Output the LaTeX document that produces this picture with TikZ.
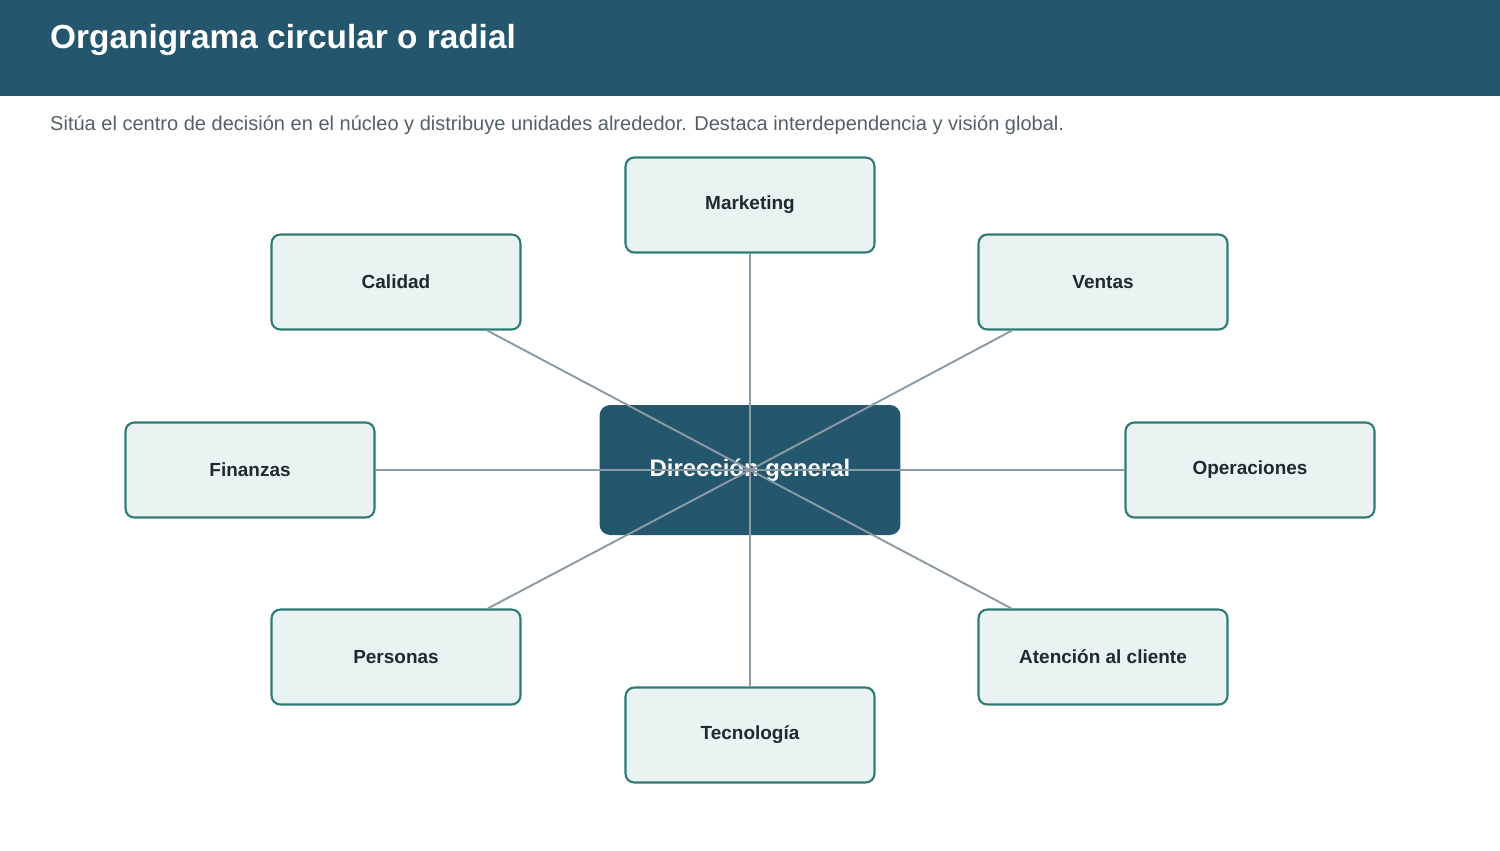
\documentclass[tikz,border=0pt]{standalone}
\usepackage{fontspec}
\setmainfont{Liberation Sans}
\definecolor{hdr}{HTML}{24566E}
\definecolor{boxfill}{HTML}{EAF3F1}
\definecolor{boxline}{HTML}{2E7B76}
\definecolor{conn}{HTML}{8A9BA5}
\definecolor{txt}{HTML}{1F2A30}
\definecolor{sub}{HTML}{555F66}
\begin{document}
\begin{tikzpicture}[x=0.02cm,y=-0.02cm,
  unit/.style={draw=boxline,fill=boxfill,line width=1.2pt,rounded corners=5pt,
    minimum width=4.98cm,minimum height=1.9cm,font=\fontsize{10.8}{13}\selectfont\bfseries,text=txt},
  core/.style={fill=hdr,rounded corners=6pt,minimum width=6.02cm,minimum height=2.6cm,
    font=\fontsize{13.6}{16}\selectfont\bfseries,text=white},
  link/.style={draw=conn,line width=1.1pt}]
\useasboundingbox (0,0) rectangle (1500,850);
\fill[hdr] (0,0) rectangle (1500,96);
\node[anchor=west,text=white,font=\fontsize{19}{22}\selectfont\bfseries] (title) at (44,40) {Organigrama circular o radial};
\node[anchor=west,text=sub,font=\fontsize{11.4}{14}\selectfont] (subtitle) at (44,125) {Sitúa el centro de decisión en el núcleo y distribuye unidades alrededor. Destaca interdependencia y visión global.};
\node[core] (c) at (750,470) {Dirección general};
\node[unit] (mk) at (750,205) {Marketing};
\node[unit] (ca) at (396,282) {Calidad};
\node[unit] (ve) at (1103,282) {Ventas};
\node[unit] (fi) at (250,470) {Finanzas};
\node[unit] (op) at (1250,470) {Operaciones};
\node[unit] (pe) at (396,657) {Personas};
\node[unit] (at) at (1103,657) {Atención al cliente};
\node[unit] (te) at (750,735) {Tecnología};
\foreach \n in {mk,ca,ve,fi,op,pe,at,te} \draw[link] (c.center) -- (\n);
\end{tikzpicture}
\end{document}
